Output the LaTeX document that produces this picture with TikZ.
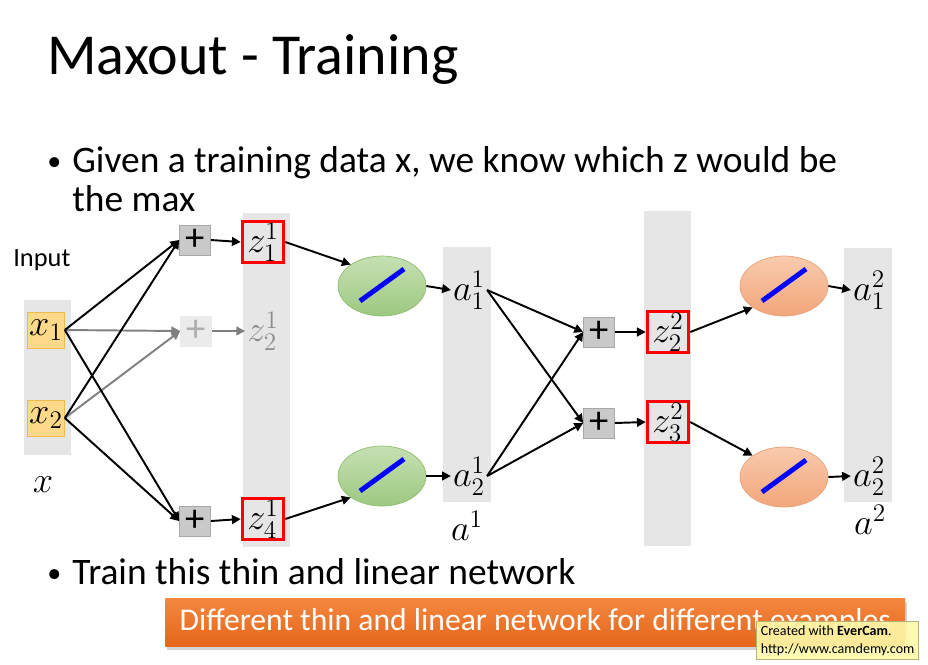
\documentclass[tikz,border=0pt]{standalone}
\usepackage{fontspec}
\setmainfont{Carlito}
\usetikzlibrary{positioning, arrows.meta, shapes.geometric, shadows}

\definecolor{barcol}{HTML}{E6E6E6}
\definecolor{infill}{HTML}{FFD98A}
\definecolor{inborder}{HTML}{F2B84B}
\definecolor{plusfill}{HTML}{C9C9C9}
\definecolor{plusline}{HTML}{A8A8A8}
\definecolor{fadefill}{HTML}{EBEBEB}
\definecolor{fadetext}{HTML}{8C8C8C}
\definecolor{greentop}{HTML}{C6E0B4}
\definecolor{greenbot}{HTML}{9DC880}
\definecolor{greenline}{HTML}{8DBF6E}
\definecolor{orangetop}{HTML}{F8CBAD}
\definecolor{orangebot}{HTML}{F2A57A}
\definecolor{orangeline}{HTML}{E9A27A}
\definecolor{bannertop}{HTML}{F4873F}
\definecolor{bannerbot}{HTML}{E4661A}
\definecolor{camfill}{HTML}{FFF9A8}
\definecolor{camline}{HTML}{B8B27A}

\begin{document}
\begin{tikzpicture}[x=0.02cm, y=-0.02cm,
  colbar/.style={fill=barcol, draw=none},
  invar/.style={draw=inborder, fill=infill, minimum width=0.74cm, minimum height=0.72cm, inner sep=0pt, font=\fontsize{20}{20}\selectfont},
  plusbox/.style={draw=plusline, fill=plusfill, minimum width=0.62cm, minimum height=0.6cm, inner sep=0pt, font=\fontsize{22}{22}\selectfont},
  fadeplus/.style={plusbox, draw=fadefill, fill=fadefill, text=fadetext!70},
  maxz/.style={draw=red, line width=2pt, minimum width=0.82cm, minimum height=0.82cm, inner sep=0pt, font=\fontsize{20}{20}\selectfont},
  plainz/.style={inner sep=1pt, font=\fontsize{20}{20}\selectfont},
  lin/.style={ellipse, minimum width=1.76cm, minimum height=1.2cm, inner sep=0pt},
  greenlin/.style={lin, draw=greenline, top color=greentop, bottom color=greenbot},
  orangelin/.style={lin, draw=orangeline, top color=orangetop, bottom color=orangebot},
  conn/.style={-{Triangle[length=5pt, width=5pt]}, line width=1.1pt},
  fadeconn/.style={conn, draw=gray},
  bigtext/.style={font=\fontsize{21.3}{21.3}\selectfont},
  dottext/.style={font=\fontsize{16}{16}\selectfont}]
\useasboundingbox (0,0) rectangle (928,664);

% title and bullets
\node[anchor=base west, inner sep=0pt, font=\fontsize{33}{33}\selectfont] (title) at (47,74) {Maxout - Training};
\node[anchor=base west, inner sep=0pt, dottext] (dot1) at (47,170) {•};
\node[anchor=base west, inner sep=0pt, bigtext] (line1) at (72,172) {Given a training data x, we know which z would be};
\node[anchor=base west, inner sep=0pt, bigtext] (line2) at (72,211) {the max};
\node[anchor=base west, inner sep=0pt, dottext] (dot2) at (47,582) {•};
\node[anchor=base west, inner sep=0pt, bigtext] (line3) at (72,584) {Train this thin and linear network};

% gray columns
\fill[colbar] (24,300) rectangle (71,455);
\fill[colbar] (243,213) rectangle (290,547);
\fill[colbar] (443,247) rectangle (491,502);
\fill[colbar] (644,211) rectangle (691,546);
\fill[colbar] (844,248) rectangle (892,502);

% input layer
\node[anchor=base west, inner sep=0pt, font=\fontsize{15}{15}\selectfont] (inlabel) at (13,266) {Input};
\node[invar] (x1) at (46,330) {$x_1$};
\node[invar] (x2) at (46,418) {$x_2$};
\node[plainz] (xlab) at (43,485) {$x$};

% first layer
\node[plusbox] (p11) at (195,240) {+};
\node[fadeplus] (p12) at (196,331) {+};
\node[plusbox] (p14) at (195,521) {+};
\node[maxz] (z11) at (263,242) {$z_1^1$};
\node[plainz, text=fadetext] (z12) at (263,331) {$z_2^1$};
\node[maxz] (z14) at (263,519) {$z_4^1$};
\node[greenlin] (g1) at (382,286) {};
\node[greenlin] (g2) at (382,476) {};
\node[plainz] (a11) at (469,290) {$a_1^1$};
\node[plainz] (a12) at (469,476) {$a_2^1$};
\node[plainz] (a1lab) at (467,526) {$a^1$};

% second layer
\node[plusbox] (p21) at (599,332) {+};
\node[plusbox] (p22) at (599,423) {+};
\node[maxz] (z22) at (668,332) {$z_2^2$};
\node[maxz] (z23) at (668,422) {$z_3^2$};
\node[orangelin] (o1) at (784,286) {};
\node[orangelin] (o2) at (784,477) {};
\node[plainz] (a21) at (869,290) {$a_1^2$};
\node[plainz] (a22) at (869,476) {$a_2^2$};
\node[plainz] (a2lab) at (870,520) {$a^2$};

% linear activation marks
\foreach \e in {g1, g2, o1, o2}
  \draw[blue, line width=2.8pt] ([shift={(-22,15)}]\e.center) -- ([shift={(22,-17)}]\e.center);

% connections
\draw[fadeconn] (x1.east) -- (p12.west);
\draw[fadeconn] (x2.east) -- (p12.west);
\draw[fadeconn] (p12.east) -- (z12.west);
\foreach \s in {x1, x2}
  \foreach \t in {p11, p14}
    \draw[conn] (\s.east) -- (\t.west);
\draw[conn] (p11.east) -- (z11.west);
\draw[conn] (p14.east) -- (z14.west);
\draw[conn] (z11.east) -- (g1.north west);
\draw[conn] (z14.east) -- (g2.south west);
\draw[conn] (g1.east) -- (a11.west);
\draw[conn] (g2.east) -- (a12.west);
\foreach \s in {a11, a12}
  \foreach \t in {p21, p22}
    \draw[conn] (\s.east) -- (\t.west);
\draw[conn] (p21.east) -- (z22.west);
\draw[conn] (p22.east) -- (z23.west);
\draw[conn] (z22.east) -- (o1.south west);
\draw[conn] (z23.east) -- (o2.north west);
\draw[conn] (o1.east) -- (a21.west);
\draw[conn] (o2.east) -- (a22.west);

% banner and watermark
\node[anchor=north west, minimum width=14.8cm, minimum height=0.96cm, top color=bannertop, bottom color=bannerbot, drop shadow={shadow xshift=1pt, shadow yshift=-2pt, opacity=0.35}, text=white, font=\fontsize{18}{18}\selectfont] (banner) at (165,598) {Different thin and linear network for different examples};
\node[anchor=north west, draw=camline, fill=camfill, fill opacity=0.9, text opacity=1, align=left, inner sep=2.5pt, font=\fontsize{8}{10}\selectfont] (evercam) at (756,621) {Created with \textbf{EverCam}.\\http://www.camdemy.com};
\end{tikzpicture}
\end{document}
